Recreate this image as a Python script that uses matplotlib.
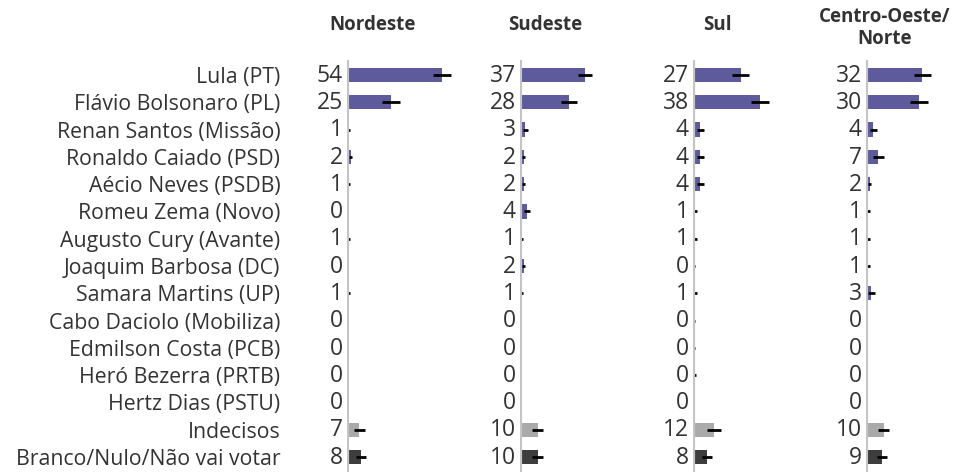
import numpy as np
import matplotlib
matplotlib.use("Agg")
import matplotlib.pyplot as plt

plt.rcParams['font.family'] = ['Open Sans', 'DejaVu Sans']

candidatos = ["Lula (PT)", "Flávio Bolsonaro (PL)", "Renan Santos (Missão)",
              "Ronaldo Caiado (PSD)", "Aécio Neves (PSDB)", "Romeu Zema (Novo)",
              "Augusto Cury (Avante)", "Joaquim Barbosa (DC)", "Samara Martins (UP)",
              "Cabo Daciolo (Mobiliza)", "Edmilson Costa (PCB)", "Heró Bezerra (PRTB)",
              "Hertz Dias (PSTU)", "Indecisos", "Branco/Nulo/Não vai votar"]
regioes = ["Nordeste", "Sudeste", "Sul", "Centro-Oeste/\nNorte"]

nordeste = [54, 25, 1, 2, 1, 0, 1, 0, 1, 0, 0, 0, 0, 7, 8]
sudeste = [37, 28, 3, 2, 2, 4, 1, 2, 1, 0, 0, 0, 0, 10, 10]
sul = [27, 38, 4, 4, 4, 1, 1, 0, 1, 0, 0, 0, 0, 12, 8]
co_norte = [32, 30, 4, 7, 2, 1, 1, 1, 3, 0, 0, 0, 0, 10, 9]

# margem de erro (meia largura, p.p.)
err_nordeste = [5, 5, 0.8, 1, 0.8, 0.8, 0.8, 0.8, 0.8, 0, 0.6, 0, 0, 3, 3]
err_sudeste = [4, 4.5, 1.5, 1, 1, 1.5, 0.6, 1, 0.6, 0.6, 0, 0, 0, 3, 3]
err_sul = [5, 5, 2, 2, 2, 1.5, 1.5, 1, 1.5, 1, 1, 1.5, 0, 4, 3]
err_co = [5, 5, 2, 3, 1, 1, 1, 1, 2, 0, 0, 0, 0, 3, 3]

valores = [nordeste, sudeste, sul, co_norte]
erros = [err_nordeste, err_sudeste, err_sul, err_co]

roxo = "#5d5b9b"
cores = [roxo] * 13 + ["#aaaaaa", "#3d3d3d"]
texto = "#333333"

W, H = 961, 472
fig = plt.figure(figsize=(W / 100, H / 100), dpi=100)

y = np.arange(len(candidatos))
ax_top, ax_bot = 60, 472
lefts = [347, 520, 693, 866]

for i, (vals, errs) in enumerate(zip(valores, erros)):
    ax = fig.add_axes([lefts[i] / W, 0, 150 / W, (ax_bot - ax_top) / H])
    ax.set_xlim(0, 85)
    ax.set_ylim(14.55, -0.55)
    ax.barh(y, vals, height=0.52, color=cores, zorder=2)
    e = np.array(errs)
    m = e > 0
    ax.errorbar(np.array(vals)[m], y[m], xerr=e[m], fmt='none', ecolor='black',
                elinewidth=2, capsize=0, zorder=3)
    ax.axvline(0, color="#c4c4c4", lw=3, zorder=4)
    for yy, v in zip(y, vals):
        ax.annotate(str(v), (0, yy), xytext=(-3, -0.5), textcoords='offset points',
                    ha='right', va='center', fontsize=16.5, color=texto)
    for s in ax.spines.values():
        s.set_visible(False)
    ax.set_xticks([])
    if i == 0:
        ax.set_yticks(y)
        ax.set_yticklabels(candidatos, fontsize=15.3, color=texto)
        ax.tick_params(axis='y', length=0, pad=48)
    else:
        ax.set_yticks([])
    ax.set_facecolor('none')
    fig.text((lefts[i] + [26, 25, 24, 19][i]) / W,
             1 - (25 if i < 3 else 28) / H, regioes[i], ha='center', va='center',
             fontsize=13.5, fontweight='bold', color=texto, linespacing=1.2)

fig.savefig("out.png", dpi=100)
